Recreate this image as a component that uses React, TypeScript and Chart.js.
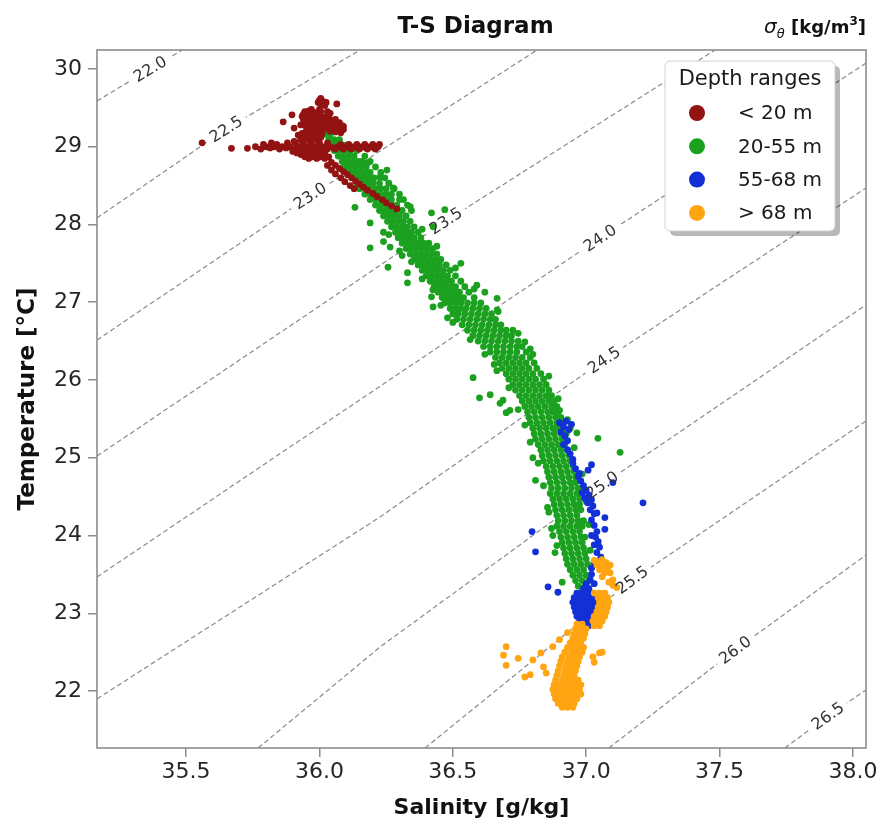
import React, { useEffect, useRef } from 'react';
import { Chart, registerables } from 'chart.js';

Chart.register(...registerables);

// ---------- axes ----------
const X_TICKS = [35.5, 36.0, 36.5, 37.0, 37.5, 38.0];
const Y_TICKS = [22, 23, 24, 25, 26, 27, 28, 29, 30];
const X_MIN = 35.166;
const X_MAX = 38.049;
const Y_MIN = 21.267;
const Y_MAX = 30.244;

const TITLE = 'T-S Diagram';
const X_TITLE = 'Salinity [g/kg]';
const Y_TITLE = 'Temperature [°C]';
const LEGEND_TITLE = 'Depth ranges';

// ---------- depth groups ----------
const DEPTH_LABELS = ['< 20 m', '20-55 m', '55-68 m', '> 68 m'];
const DEPTH_COLORS = ['#931212', '#1ba11f', '#1330d6', '#ffa512'];

// rows: [Temperature, Salinity, Salinity, ...]
const RED_ROWS: number[][] = [
  [29.62, 36.005], [29.60, 36.0], [29.58, 36.015], [29.57, 35.995, 36.025],
  [29.55, 36.005, 36.065], [29.53, 36.02],
  [29.48, 35.97, 36.0], [29.46, 35.96], [29.45, 35.945, 36.005, 36.03], [29.44, 35.99],
  [29.43, 35.965, 35.985, 36.04], [29.42, 35.94], [29.41, 35.897], [29.40, 35.975],
  [29.39, 35.935, 35.96, 36.035], [29.38, 36.0, 36.02], [29.36, 35.955],
  [29.35, 35.94, 35.99, 36.035, 36.06], [29.34, 36.015, 36.045], [29.33, 35.975],
  [29.32, 35.864], [29.31, 35.96, 35.985, 36.01, 36.05, 36.075],
  [29.30, 35.945, 35.995, 36.03], [29.29, 36.06], [29.28, 35.93, 35.98, 36.02, 36.045],
  [29.27, 35.965, 36.01, 36.085], [29.26, 35.95, 36.055, 36.09],
  [29.25, 35.99, 36.03, 36.075], [29.24, 35.905], [29.23, 35.97, 36.03, 36.07],
  [29.22, 36.01, 36.05, 36.09], [29.20, 35.95, 35.98, 36.0, 36.04], [29.19, 36.06], [29.18, 36.08],
  [29.17, 35.935, 35.97, 36.01],
  [29.15, 35.92, 35.95, 35.99],
  [29.12, 35.945, 35.975, 36.005],
  [29.10, 35.93, 35.96, 35.99],
  [29.07, 35.905, 35.935, 35.965, 35.995],
  [29.05, 35.56, 35.82, 35.88, 35.91, 35.94, 35.97, 36.0, 36.03],
  [29.03, 35.79, 35.84, 36.08, 36.11, 36.14, 36.17, 36.20, 36.225],
  [29.00, 35.76, 35.80, 35.83, 35.86, 35.89, 35.92, 35.95, 35.98, 36.01, 36.04, 36.07, 36.10, 36.13, 36.16, 36.19, 36.22],
  [28.985, 35.815, 35.875, 35.935, 35.965, 35.995, 36.025, 36.055, 36.085, 36.115, 36.145, 36.175, 36.205],
  [28.98, 35.67, 35.73],
  [28.97, 35.78, 35.85, 35.91, 35.94, 35.97, 36.0, 36.03, 36.06, 36.09, 36.12, 36.15, 36.18, 36.21],
  [28.94, 35.90, 35.93, 35.96, 35.99, 36.02],
  [28.92, 35.915, 35.945, 35.975, 36.005],
  [28.90, 35.93, 35.96, 35.99, 36.02],
  [28.87, 35.945, 35.975, 36.005, 36.035],
  [28.85, 35.96, 35.99, 36.02],
  [28.80, 36.045], [28.76, 36.03, 36.06], [28.72, 36.075], [28.70, 36.045],
  [28.68, 36.09], [28.65, 36.06], [28.64, 36.105], [28.60, 36.08, 36.12],
  [28.56, 36.135], [28.55, 36.095], [28.52, 36.15], [28.50, 36.115],
  [28.48, 36.165], [28.46, 36.13], [28.44, 36.18], [28.40, 36.20],
  [28.36, 36.215], [28.32, 36.235], [28.28, 36.25], [28.24, 36.27], [28.20, 36.29],
];

const GREEN_ROWS: number[][] = [
  [29.16, 36.02, 36.04],
  [29.09, 36.035, 36.055, 36.075],
  [29.02, 36.04, 36.06, 36.08, 36.10],
  [28.95, 36.055, 36.075, 36.095, 36.115, 36.14],
  [28.88, 36.07, 36.09, 36.11, 36.13, 36.17],
  [28.81, 36.085, 36.105, 36.125, 36.145, 36.16, 36.19],
  [28.74, 36.095, 36.115, 36.135, 36.155, 36.175, 36.21],
  [28.67, 36.11, 36.13, 36.15, 36.17, 36.19, 36.23],
  [28.60, 36.125, 36.145, 36.165, 36.185, 36.205, 36.245],
  [28.53, 36.14, 36.16, 36.18, 36.20, 36.225, 36.26],
  [28.46, 36.15, 36.17, 36.19, 36.21, 36.23, 36.25, 36.28],
  [28.39, 36.17, 36.19, 36.21, 36.23, 36.25, 36.27, 36.30],
  [28.32, 36.19, 36.21, 36.23, 36.25, 36.27, 36.315],
  [28.25, 36.21, 36.23, 36.25, 36.27, 36.29, 36.33],
  [28.18, 36.225, 36.245, 36.265, 36.285, 36.31, 36.345],
  [28.11, 36.24, 36.26, 36.28, 36.30, 36.325],
  [28.04, 36.255, 36.275, 36.295, 36.315, 36.34],
  [27.97, 36.27, 36.29, 36.31, 36.33, 36.355],
  [27.90, 36.285, 36.305, 36.325, 36.345, 36.37],
  [27.83, 36.295, 36.315, 36.335, 36.355, 36.38],
  [27.76, 36.31, 36.33, 36.35, 36.37, 36.39, 36.41],
  [27.69, 36.325, 36.345, 36.365, 36.385, 36.405, 36.425],
  [27.62, 36.34, 36.36, 36.38, 36.40, 36.42, 36.44],
  [27.55, 36.355, 36.375, 36.395, 36.415, 36.435, 36.455],
  [27.48, 36.37, 36.39, 36.41, 36.43, 36.45, 36.475],
  [27.41, 36.385, 36.405, 36.425, 36.445, 36.465, 36.49],
  [27.34, 36.40, 36.42, 36.44, 36.46, 36.48, 36.51],
  [27.27, 36.415, 36.435, 36.455, 36.475, 36.495, 36.53],
  [27.20, 36.43, 36.45, 36.47, 36.49, 36.51, 36.545],
  [27.13, 36.445, 36.465, 36.485, 36.505, 36.525, 36.56],
  [27.06, 36.46, 36.48, 36.50, 36.52, 36.54, 36.58],
  [26.99, 36.47, 36.49, 36.51, 36.53, 36.555, 36.58, 36.605],
  [26.92, 36.49, 36.51, 36.53, 36.55, 36.575, 36.60, 36.625],
  [26.85, 36.50, 36.52, 36.545, 36.57, 36.595, 36.62, 36.645],
  [26.78, 36.515, 36.54, 36.565, 36.59, 36.615, 36.64, 36.66],
  [26.71, 36.535, 36.56, 36.585, 36.61, 36.635, 36.66, 36.68],
  [26.64, 36.555, 36.58, 36.605, 36.63, 36.655, 36.68, 36.70],
  [26.57, 36.575, 36.60, 36.625, 36.65, 36.675, 36.70, 36.72],
  [26.50, 36.595, 36.62, 36.645, 36.67, 36.695, 36.72, 36.745],
  [26.43, 36.615, 36.64, 36.665, 36.69, 36.715, 36.74, 36.76],
  [26.36, 36.64, 36.665, 36.69, 36.715, 36.74, 36.775],
  [26.29, 36.66, 36.685, 36.71, 36.735, 36.76, 36.79],
  [26.22, 36.675, 36.70, 36.725, 36.75, 36.775, 36.805],
  [26.15, 36.685, 36.71, 36.735, 36.76, 36.785, 36.815],
  [26.08, 36.70, 36.725, 36.75, 36.775, 36.80, 36.83],
  [26.01, 36.71, 36.735, 36.76, 36.785, 36.81, 36.84],
  [25.94, 36.725, 36.75, 36.775, 36.80, 36.825, 36.85],
  [25.87, 36.735, 36.76, 36.785, 36.81, 36.835, 36.86],
  [25.80, 36.75, 36.775, 36.80, 36.825, 36.85, 36.87],
  [25.73, 36.76, 36.785, 36.81, 36.835, 36.86, 36.88],
  [25.66, 36.77, 36.795, 36.82, 36.845, 36.87, 36.89],
  [25.59, 36.78, 36.805, 36.83, 36.855, 36.875, 36.895],
  [25.52, 36.785, 36.81, 36.835, 36.86, 36.885, 36.905],
  [25.45, 36.79, 36.815, 36.84, 36.865, 36.89, 36.91],
  [25.38, 36.80, 36.825, 36.85, 36.875, 36.895, 36.915],
  [25.31, 36.805, 36.83, 36.855, 36.88, 36.905, 36.925],
  [25.24, 36.81, 36.835, 36.86, 36.885, 36.91],
  [25.17, 36.82, 36.845, 36.87, 36.895, 36.92],
  [25.10, 36.83, 36.855, 36.88, 36.905, 36.93],
  [25.03, 36.835, 36.86, 36.885, 36.91, 36.935],
  [24.96, 36.84, 36.865, 36.89, 36.915, 36.94],
  [24.89, 36.85, 36.875, 36.90, 36.925, 36.95],
  [24.82, 36.855, 36.88, 36.905, 36.93, 36.955],
  [24.75, 36.86, 36.885, 36.91, 36.935, 36.96],
  [24.68, 36.865, 36.89, 36.915, 36.94, 36.96],
  [24.61, 36.87, 36.895, 36.92, 36.945, 36.97],
  [24.54, 36.865, 36.89, 36.915, 36.94, 36.965],
  [24.47, 36.875, 36.90, 36.925, 36.95, 36.975],
  [24.40, 36.88, 36.905, 36.93, 36.955, 36.975],
  [24.33, 36.885, 36.91, 36.935, 36.96, 36.98],
  [24.26, 36.89, 36.915, 36.94, 36.965],
  [24.19, 36.895, 36.92, 36.945, 36.97, 36.99],
  [24.12, 36.89, 36.915, 36.94, 36.965, 36.985],
  [24.05, 36.90, 36.925, 36.95, 36.975],
  [23.98, 36.905, 36.93, 36.955, 36.98, 36.995],
  [23.91, 36.91, 36.935, 36.96, 36.985],
  [23.84, 36.915, 36.94, 36.965, 36.99],
  [23.77, 36.92, 36.945, 36.97, 36.995],
  [23.70, 36.925, 36.95, 36.975, 37.0],
  [23.63, 36.93, 36.955, 36.98, 37.005],
  [23.56, 36.94, 36.965, 36.99],
  [23.49, 36.95, 36.975, 37.0],
  [23.42, 36.96, 36.985, 37.01],
  [23.35, 36.97, 36.995],
  [23.29, 36.985, 37.005],
  // ragged left edge of the band
  [27.87, 36.26], [27.66, 36.30], [27.52, 36.345], [27.30, 36.385], [27.16, 36.425],
  [26.96, 36.455], [26.74, 36.50], [26.52, 36.565], [26.33, 36.62], [26.12, 36.665],
  [25.90, 36.71], [25.62, 36.745], [25.42, 36.77], [25.20, 36.79], [24.93, 36.82],
  [24.64, 36.84], [24.36, 36.855], [24.09, 36.87], [23.87, 36.89],
  // ragged right edge of the band
  [27.94, 36.385], [27.72, 36.44], [27.44, 36.51], [27.17, 36.58], [26.88, 36.67],
  [26.60, 36.745], [26.33, 36.80], [26.05, 36.86], [25.76, 36.895], [25.49, 36.93],
  [25.13, 36.955], [24.79, 36.985], [24.44, 37.0], [24.14, 37.01], [23.81, 37.015],
  // scattered points off the main band
  [28.79, 36.18], [28.70, 36.253], [28.61, 36.227], [28.47, 36.276], [28.32, 36.30],
  [28.23, 36.34], [28.22, 36.133], [28.19, 36.47], [28.15, 36.42], [28.02, 36.19],
  [27.97, 36.426], [27.90, 36.24], [27.78, 36.24], [27.71, 36.265], [27.70, 36.19],
  [27.60, 36.31], [27.50, 36.53], [27.45, 36.257], [27.38, 36.33], [27.25, 36.33],
  [27.22, 36.59], [27.13, 36.62], [27.07, 36.42], [27.05, 36.666], [26.94, 36.426],
  [26.90, 36.666], [26.80, 36.48], [26.64, 36.725], [26.49, 36.77], [26.40, 36.79],
  [26.20, 36.655], [26.03, 36.576], [25.81, 36.64], [25.77, 36.60], [25.74, 36.688],
  [25.70, 36.677], [25.61, 36.714, 36.90], [25.58, 36.70], [25.38, 36.94], [25.32, 36.965],
  [25.25, 37.044], [25.07, 37.127], [25.0, 36.80], [24.71, 36.81], [24.60, 36.99],
  [24.30, 36.86], [24.0, 36.875], [23.78, 36.883], [23.40, 36.91],
];

const BLUE_ROWS: number[][] = [
  [25.47, 36.925], [25.45, 36.90], [25.43, 36.945], [25.40, 36.915], [25.36, 36.935],
  [25.33, 36.905], [25.28, 36.92], [25.22, 36.93], [25.17, 36.915], [25.10, 36.93],
  [25.05, 36.94], [24.98, 36.95], [24.93, 36.95], [24.91, 37.02], [24.86, 36.96],
  [24.84, 37.007], [24.80, 36.975], [24.76, 36.97], [24.70, 36.98], [24.68, 37.10],
  [24.64, 36.99], [24.58, 37.0], [24.55, 36.985], [24.52, 37.01], [24.48, 36.995],
  [24.46, 37.02], [24.42, 37.005, 37.213], [24.38, 37.025], [24.33, 37.015],
  [24.29, 37.04], [24.28, 37.03], [24.23, 37.07], [24.20, 37.02], [24.13, 37.03],
  [24.08, 37.07], [24.05, 36.797, 37.04], [24.0, 37.02], [23.98, 37.035],
  [23.92, 37.045], [23.88, 37.03], [23.85, 37.05], [23.79, 36.81], [23.78, 37.04],
  [23.72, 37.055], [23.65, 37.03], [23.58, 37.02], [23.50, 37.02], [23.43, 37.015],
  [23.38, 37.0, 37.03], [23.34, 36.857], [23.27, 36.894],
  [23.32, 36.99, 37.01],
  [23.26, 36.965, 36.985, 37.005, 37.025],
  [23.20, 36.955, 36.975, 36.995, 37.015, 37.035],
  [23.14, 36.95, 36.97, 36.99, 37.01, 37.03, 37.045],
  [23.08, 36.955, 36.975, 36.995, 37.015, 37.035],
  [23.02, 36.96, 36.98, 37.0, 37.02, 37.04],
  [22.96, 36.965, 36.985, 37.005, 37.025],
  [22.90, 36.975, 36.995, 37.015],
  [22.84, 36.99, 37.01],
];

const ORANGE_ROWS: number[][] = [
  [23.69, 37.06], [23.68, 37.03], [23.66, 37.045], [23.65, 37.075], [23.62, 37.04, 37.09],
  [23.60, 37.06], [23.58, 37.08], [23.56, 37.05], [23.52, 37.07, 37.09], [23.47, 37.06],
  [23.43, 37.10], [23.40, 37.085], [23.36, 37.10], [23.33, 37.115],
  [23.26, 37.03, 37.05, 37.07],
  [23.20, 37.045, 37.065, 37.08],
  [23.14, 37.05, 37.07, 37.085],
  [23.08, 37.045, 37.065, 37.08],
  [23.02, 37.04, 37.06, 37.075],
  [22.96, 37.03, 37.05, 37.07],
  [22.90, 37.025, 37.045, 37.06],
  [22.84, 37.03, 37.05],
  [22.86, 36.965, 36.985],
  [22.80, 36.96, 36.98, 37.0],
  [22.74, 36.955, 36.975, 36.995],
  [22.68, 36.95, 36.97, 36.99],
  [22.62, 36.94, 36.96, 36.98],
  [22.56, 36.93, 36.95, 36.97, 36.99],
  [22.50, 36.92, 36.945, 36.965, 36.985],
  [22.44, 36.91, 36.935, 36.955, 36.975],
  [22.38, 36.905, 36.93, 36.95, 36.97],
  [22.32, 36.90, 36.925, 36.945, 36.965],
  [22.26, 36.895, 36.92, 36.94, 36.96],
  [22.20, 36.89, 36.915, 36.935, 36.955],
  [22.14, 36.885, 36.91, 36.93, 36.95, 36.97],
  [22.08, 36.88, 36.90, 36.92, 36.94, 36.96, 36.98],
  [22.02, 36.875, 36.895, 36.915, 36.935, 36.955, 36.975],
  [21.96, 36.88, 36.90, 36.92, 36.94, 36.96, 36.98],
  [21.90, 36.885, 36.905, 36.925, 36.945, 36.965],
  [21.84, 36.895, 36.915, 36.935, 36.955],
  [21.79, 36.91, 36.93, 36.95],
  [22.57, 36.70, 36.875], [22.46, 36.69], [22.33, 36.70], [22.42, 36.745], [22.40, 36.80],
  [22.49, 36.83, 37.05], [22.31, 36.84], [22.23, 36.85], [22.18, 36.77], [22.21, 36.79],
  [22.66, 36.90], [22.75, 36.93], [22.44, 37.025], [22.50, 37.06], [22.37, 37.03],
];

// ---------- isopycnals (sigma-theta) ----------
const ISO_LEVELS = ['22.0', '22.5', '23.0', '23.5', '24.0', '24.5', '25.0', '25.5', '26.0', '26.5'];
// each line: [Salinity, Temperature] vertices
const ISO_LINES: number[][][] = [
  [[35.166, 29.588], [35.365, 30.0], [35.485, 30.244]],
  [[35.166, 28.084], [35.650, 29.228], [36.152, 30.244]],
  [[35.166, 26.515], [35.965, 28.367], [36.816, 30.244]],
  [[35.166, 25.022], [36.474, 28.045], [37.483, 30.244]],
  [[35.166, 23.466], [37.052, 27.826], [38.049, 30.077]],
  [[35.166, 21.898], [36.227, 24.238], [37.067, 26.257], [38.049, 28.469]],
  [[35.770, 21.267], [36.227, 22.566], [37.059, 24.649], [38.049, 26.965]],
  [[36.396, 21.267], [37.172, 23.428], [38.049, 25.473]],
  [[37.085, 21.267], [37.558, 22.527], [38.049, 23.749]],
  [[37.745, 21.267], [37.906, 21.678], [38.049, 22.013]],
];
// which vertex of each line carries its label
const ISO_LABEL_AT = [1, 1, 1, 1, 1, 2, 2, 1, 1, 1];

const FONT = '"DejaVu Sans", sans-serif';

function rowsToPoints(rows: number[][]) {
  const pts: { x: number; y: number }[] = [];
  for (const r of rows) {
    for (let i = 1; i < r.length; i++) pts.push({ x: r[i], y: r[0] });
  }
  return pts;
}

function isoGeom(chart: any, i: number) {
  const xs = chart.scales.x;
  const ys = chart.scales.y;
  const line = ISO_LINES[i];
  const k = ISO_LABEL_AT[i];
  const p = line[k];
  const a = line[k - 1];
  const b = line[k + 1];
  const px = xs.getPixelForValue(p[0]);
  const py = ys.getPixelForValue(p[1]);
  const ang = Math.atan2(
    ys.getPixelForValue(b[1]) - ys.getPixelForValue(a[1]),
    xs.getPixelForValue(b[0]) - xs.getPixelForValue(a[0])
  );
  return { px, py, ang };
}

const ISO_FONT = '16px ' + FONT;

const tsPlugin = {
  id: 'tsDecor',
  beforeDraw(chart: any) {
    const { ctx, width, height } = chart;
    ctx.save();
    ctx.fillStyle = '#ffffff';
    ctx.fillRect(0, 0, width, height);
    ctx.restore();
  },
  afterDatasetDraw(chart: any, args: any) {
    const ds = chart.data.datasets[args.index];
    if (ds.isoIndex === undefined) return;
    const { ctx } = chart;
    const g = isoGeom(chart, ds.isoIndex);
    ctx.save();
    ctx.font = ISO_FONT;
    const w = ctx.measureText(ISO_LEVELS[ds.isoIndex]).width;
    ctx.translate(g.px, g.py);
    ctx.rotate(g.ang);
    ctx.fillStyle = '#ffffff';
    ctx.fillRect(-w / 2 - 5, -9, w + 10, 18);
    ctx.restore();
  },
  afterDatasetsDraw(chart: any) {
    const { ctx } = chart;
    ctx.save();
    ctx.font = ISO_FONT;
    ctx.fillStyle = '#333333';
    ctx.textAlign = 'center';
    ctx.textBaseline = 'middle';
    for (let i = 0; i < ISO_LEVELS.length; i++) {
      const g = isoGeom(chart, i);
      ctx.save();
      ctx.translate(g.px, g.py);
      ctx.rotate(g.ang);
      ctx.fillText(ISO_LEVELS[i], 0, 1);
      ctx.restore();
    }
    ctx.restore();
  },
  afterDraw(chart: any) {
    const { ctx, chartArea } = chart;
    const { left, right, top, bottom } = chartArea;
    ctx.save();
    // frame
    ctx.strokeStyle = '#8c8c8c';
    ctx.lineWidth = 1.6;
    ctx.strokeRect(left, top, right - left, bottom - top);

    // title
    ctx.fillStyle = '#111111';
    ctx.font = 'bold 23px ' + FONT;
    ctx.textAlign = 'center';
    ctx.textBaseline = 'alphabetic';
    ctx.fillText(TITLE, (left + right) / 2 - 6, 33);

    // sigma-theta unit label (right-aligned)
    const parts = [
      { t: 'σ', f: 'italic 20px ' + FONT, dy: 0 },
      { t: 'θ', f: 'italic 13px ' + FONT, dy: 5 },
      { t: ' [kg/m', f: 'bold 18px ' + FONT, dy: 0 },
      { t: '3', f: 'bold 12px ' + FONT, dy: -8 },
      { t: ']', f: 'bold 18px ' + FONT, dy: 0 },
    ];
    ctx.textAlign = 'left';
    let total = 0;
    for (const p of parts) {
      ctx.font = p.f;
      total += ctx.measureText(p.t).width;
    }
    let x = right - total;
    for (const p of parts) {
      ctx.font = p.f;
      ctx.fillText(p.t, x, 33 + p.dy);
      x += ctx.measureText(p.t).width;
    }

    // legend
    const lx = right - 201;
    const ly = top + 11;
    const lw = 170;
    const lh = 170;
    const rr = (bx: number, by: number) => {
      ctx.beginPath();
      ctx.roundRect(bx, by, lw, lh, 5);
    };
    ctx.fillStyle = 'rgba(0,0,0,0.28)';
    rr(lx + 5, ly + 5);
    ctx.fill();
    ctx.fillStyle = '#ffffff';
    rr(lx, ly);
    ctx.fill();
    ctx.strokeStyle = '#d0d0d0';
    ctx.lineWidth = 1;
    ctx.stroke();
    ctx.fillStyle = '#1a1a1a';
    ctx.font = '21px ' + FONT;
    ctx.textAlign = 'center';
    ctx.textBaseline = 'middle';
    ctx.fillText(LEGEND_TITLE, lx + lw / 2, ly + 19);
    ctx.textAlign = 'left';
    ctx.font = '20px ' + FONT;
    for (let i = 0; i < DEPTH_LABELS.length; i++) {
      const cy = ly + 52 + i * 33.3;
      ctx.fillStyle = DEPTH_COLORS[i];
      ctx.beginPath();
      ctx.arc(lx + 32, cy, 8, 0, Math.PI * 2);
      ctx.fill();
      ctx.fillStyle = '#1a1a1a';
      ctx.fillText(DEPTH_LABELS[i], lx + 73, cy + 1);
    }
    ctx.restore();
  },
};

export default function App() {
  const ref = useRef<HTMLCanvasElement>(null);

  useEffect(() => {
    const groups = [RED_ROWS, GREEN_ROWS, BLUE_ROWS, ORANGE_ROWS];
    const drawOrder = [1, 4, 3, 2];
    const scatterSets = groups.map((rows, i) => ({
      label: DEPTH_LABELS[i],
      data: rowsToPoints(rows),
      backgroundColor: DEPTH_COLORS[i],
      borderColor: DEPTH_COLORS[i],
      borderWidth: 0,
      pointRadius: 3.4,
      pointHoverRadius: 3.4,
      order: drawOrder[i],
    }));
    const isoSets = ISO_LINES.map((line, i) => ({
      label: 'σθ ' + ISO_LEVELS[i],
      isoIndex: i,
      data: line.map(([s, t]) => ({ x: s, y: t })),
      showLine: true,
      borderColor: '#8a8a8a',
      borderWidth: 1.2,
      borderDash: [5, 3],
      pointRadius: 0,
      fill: false,
      order: 10,
    }));

    const tickFont = { family: FONT, size: 22 };
    const chart = new Chart(ref.current as HTMLCanvasElement, {
      type: 'scatter',
      data: { datasets: [...scatterSets, ...isoSets] as any },
      options: {
        responsive: false,
        animation: false,
        devicePixelRatio: 1,
        events: [],
        layout: { padding: { left: 0, right: 14, top: 50, bottom: 0 } },
        plugins: {
          legend: { display: false },
          title: { display: false },
          tooltip: { enabled: false },
        },
        scales: {
          x: {
            type: 'linear',
            min: X_MIN,
            max: X_MAX,
            afterBuildTicks: (scale: any) => {
              scale.ticks = X_TICKS.map((v) => ({ value: v }));
            },
            afterFit: (scale: any) => {
              scale.height = 79;
            },
            ticks: {
              font: tickFont,
              color: '#262626',
              padding: 2,
              maxRotation: 0,
              callback: (v: any) => Number(v).toFixed(1),
            },
            grid: {
              drawOnChartArea: false,
              drawTicks: true,
              tickLength: 9,
              color: '#8c8c8c',
              lineWidth: 1.5,
            },
            border: { display: false },
            title: {
              display: true,
              text: X_TITLE,
              color: '#111111',
              font: { family: FONT, size: 22, weight: 'bold' },
              padding: { top: 0, bottom: 6 },
            },
          },
          y: {
            type: 'linear',
            min: Y_MIN,
            max: Y_MAX,
            afterBuildTicks: (scale: any) => {
              scale.ticks = Y_TICKS.map((v) => ({ value: v }));
            },
            afterFit: (scale: any) => {
              scale.width = 97;
            },
            ticks: {
              font: tickFont,
              color: '#262626',
              padding: 6,
              callback: (v: any) => String(Math.round(Number(v))),
            },
            grid: {
              drawOnChartArea: false,
              drawTicks: true,
              tickLength: 9,
              color: '#8c8c8c',
              lineWidth: 1.5,
            },
            border: { display: false },
            title: {
              display: true,
              text: Y_TITLE,
              color: '#111111',
              font: { family: FONT, size: 23, weight: 'bold' },
              padding: { top: 14, bottom: 0 },
            },
          },
        },
      } as any,
      plugins: [tsPlugin],
    });
    return () => chart.destroy();
  }, []);

  return (
    <div style={{ position: 'absolute', left: 0, top: 0, width: 880, height: 827, background: '#ffffff' }}>
      <canvas ref={ref} width={880} height={827} style={{ display: 'block', width: 880, height: 827 }} />
    </div>
  );
}
